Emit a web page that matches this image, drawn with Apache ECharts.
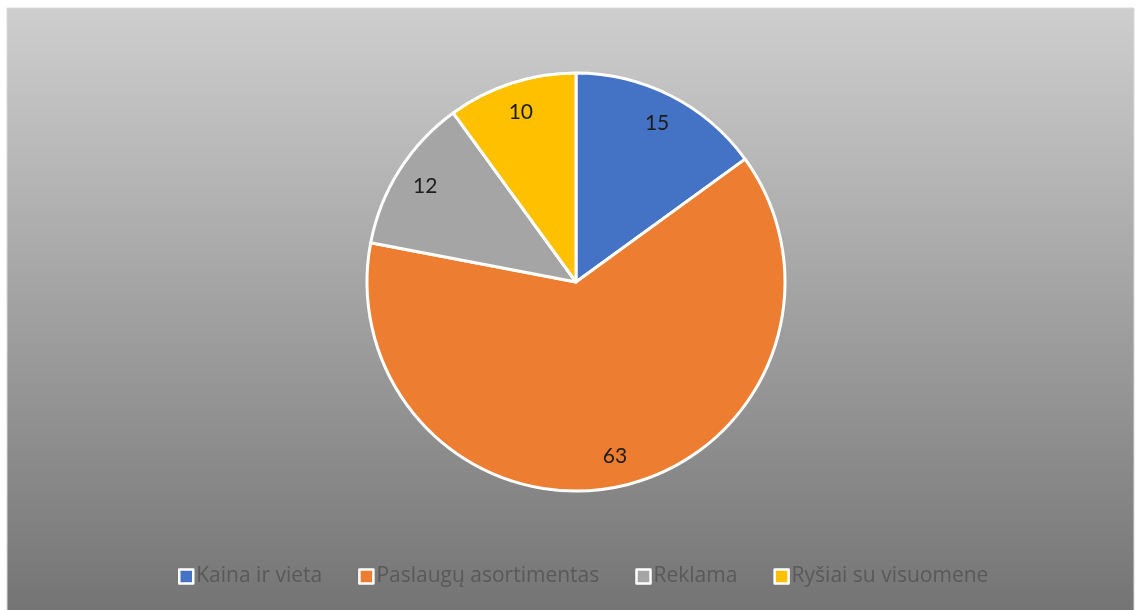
<!DOCTYPE html>
<html>
<head>
<meta charset="utf-8">
<script src="https://cdn.jsdelivr.net/npm/echarts@6/dist/echarts.min.js"></script>
<style>
  html, body { margin: 0; padding: 0; background: #ffffff; }
  #chart { width: 1140px; height: 610px; }
</style>
</head>
<body>
<div id="chart"></div>
<script>
// Marketing mix shares
const categories = ['Kaina ir vieta', 'Paslaugų asortimentas', 'Reklama', 'Ryšiai su visuomene'];
const values = [15, 63, 12, 10];
const colors = ['#4472c4', '#ed7d31', '#a5a5a5', '#ffc000'];

const chart = echarts.init(document.getElementById('chart'), null, { renderer: 'canvas' });

const pieData = categories.map((name, i) => ({ name, value: values[i], itemStyle: { color: colors[i] } }));
const R = 209;
const center = [576, 282];

chart.setOption({
  backgroundColor: '#ffffff',
  animation: false,
  graphic: [{
    type: 'rect',
    z: -10,
    silent: true,
    shape: { x: 7, y: 8, width: 1127, height: 610 },
    style: {
      fill: new echarts.graphic.LinearGradient(0, 0, 0, 1, [
        { offset: 0, color: '#cecece' },
        { offset: 1, color: '#737373' }
      ]),
      stroke: '#d9d9d9',
      lineWidth: 1
    }
  }],
  legend: {
    bottom: 18,
    left: 173,
    itemWidth: 14,
    itemHeight: 14,
    itemGap: 36,
    icon: 'rect',
    itemStyle: { borderColor: '#ffffff', borderWidth: 2.5 },
    textStyle: { color: '#595959', fontSize: 21, fontFamily: '"Open Sans", sans-serif', padding: [0, 0, 0, -2] },
    data: categories
  },
  series: [
    {
      type: 'pie',
      center: center,
      radius: [0, R],
      startAngle: 90,
      clockwise: true,
      silent: true,
      itemStyle: { borderColor: '#ffffff', borderWidth: 3 },
      label: { show: false },
      labelLine: { show: false },
      data: pieData
    },
    {
      // label ring: places the value text near the rim of each slice
      type: 'pie',
      center: center,
      radius: [R * 0.68, R],
      startAngle: 90,
      clockwise: true,
      silent: true,
      legendHoverLink: false,
      itemStyle: { color: 'transparent', borderWidth: 0 },
      label: {
        show: true,
        position: 'inside',
        formatter: '{c}',
        color: '#1c1c1c',
        fontSize: 21,
        fontFamily: 'Lato, "Open Sans", sans-serif'
      },
      labelLine: { show: false },
      data: categories.map((name, i) => ({ name: name + ' ', value: values[i] }))
    }
  ]
});
</script>
</body>
</html>
